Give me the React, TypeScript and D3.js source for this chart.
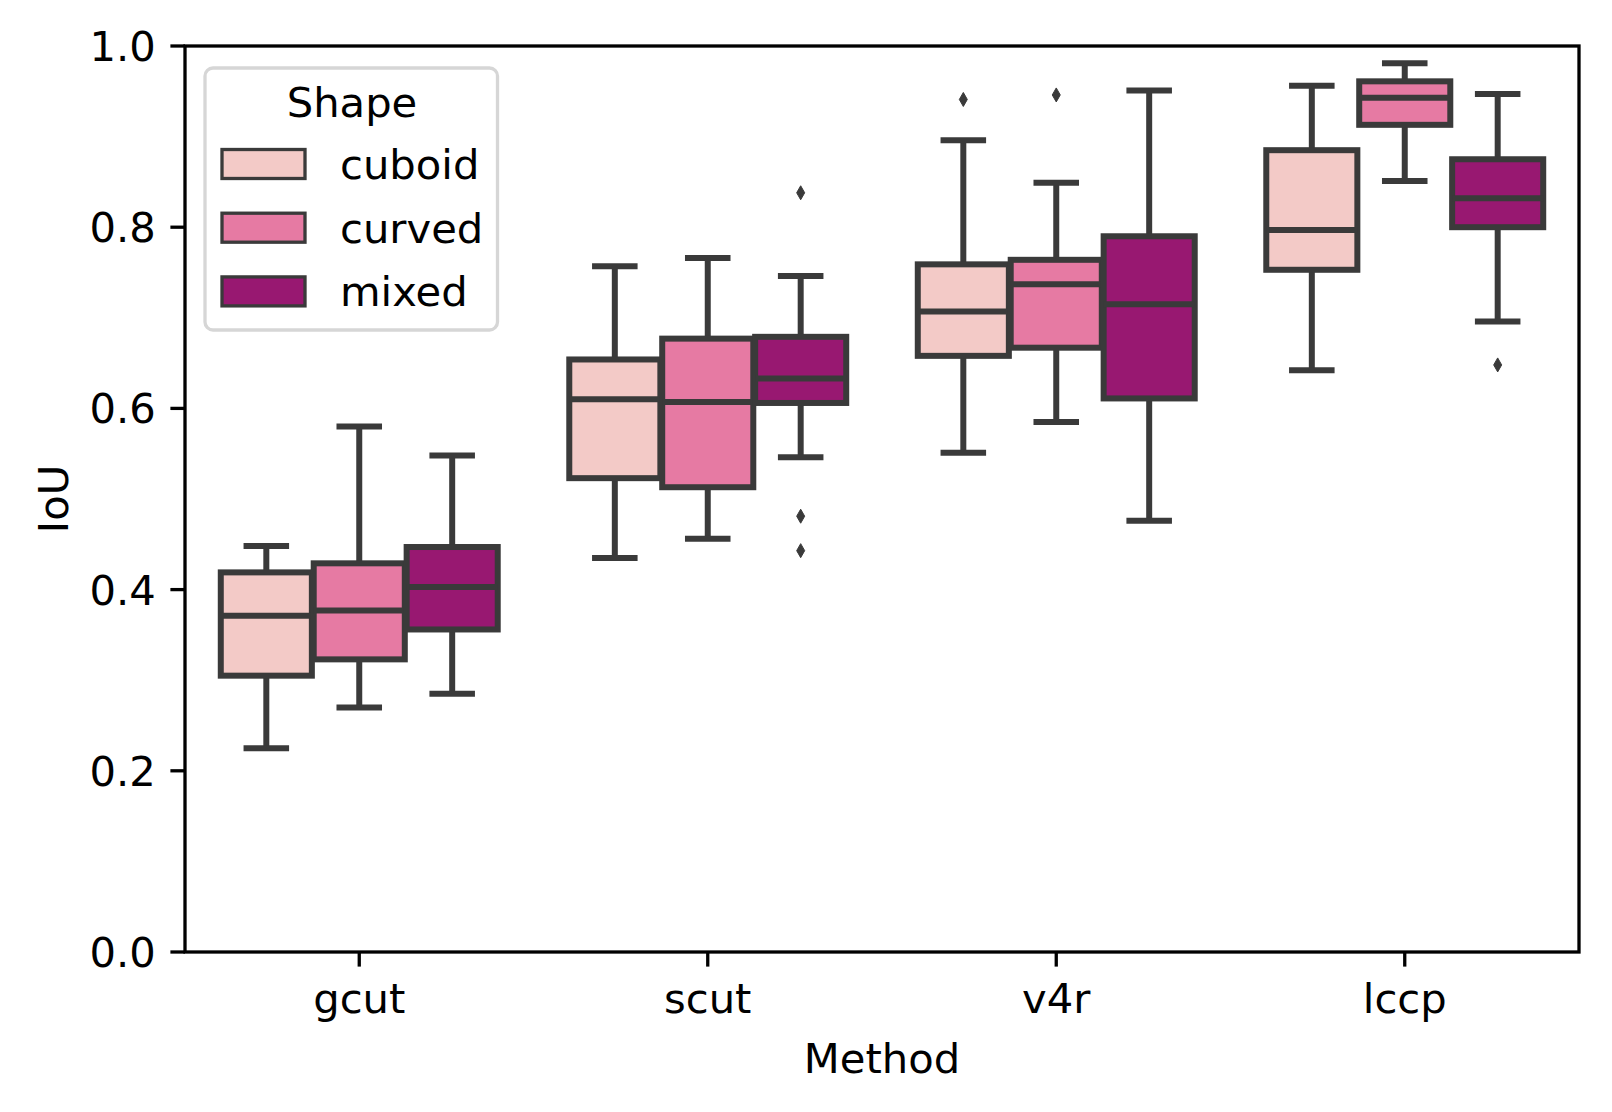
import * as d3 from "d3"

// categories and hue groups
const methods = ["gcut", "scut", "v4r", "lccp"]
const shapes = ["cuboid", "curved", "mixed"]
const shapeColors = ["#f3cac7", "#e67aa3", "#981871"]

// per method: [whisker low, q1, median, q3, whisker high]
const cuboidBox = [
  [0.225, 0.305, 0.371, 0.419, 0.448],
  [0.435, 0.523, 0.61, 0.654, 0.757],
  [0.551, 0.658, 0.707, 0.759, 0.896],
  [0.642, 0.753, 0.797, 0.885, 0.956],
]
const curvedBox = [
  [0.27, 0.323, 0.377, 0.429, 0.58],
  [0.456, 0.513, 0.607, 0.677, 0.766],
  [0.585, 0.667, 0.737, 0.764, 0.849],
  [0.851, 0.913, 0.943, 0.961, 0.981],
]
const mixedBox = [
  [0.285, 0.356, 0.403, 0.447, 0.548],
  [0.546, 0.606, 0.633, 0.679, 0.746],
  [0.476, 0.611, 0.715, 0.79, 0.951],
  [0.696, 0.8, 0.832, 0.875, 0.947],
]

// outliers: [method, shape, value]
const outliers: [string, string, number][] = [
  ["scut", "mixed", 0.838],
  ["scut", "mixed", 0.481],
  ["scut", "mixed", 0.443],
  ["v4r", "cuboid", 0.941],
  ["v4r", "curved", 0.946],
  ["lccp", "mixed", 0.648],
]

const yTicks = [0, 0.2, 0.4, 0.6, 0.8, 1.0]

export default function App() {
  const W = 1612
  const H = 1112
  const margin = { top: 46, right: 33, bottom: 160, left: 185 }
  const innerW = W - margin.left - margin.right
  const innerH = H - margin.top - margin.bottom
  const font = "DejaVu Sans, sans-serif"
  const fs = 41.7
  const edge = "#3a3a3a"
  const lw = 6
  const spine = 3.3
  const tickLen = 14.6

  const x = d3.scaleBand().domain(methods).range([0, innerW])
  const hue = d3
    .scaleBand()
    .domain(shapes)
    .range([-x.bandwidth() * 0.4, x.bandwidth() * 0.4])
  const y = d3.scaleLinear().domain([0, 1]).range([innerH, 0])

  const boxW = hue.bandwidth() * 0.98
  const capW = boxW * 0.5
  const boxSets = [cuboidBox, curvedBox, mixedBox]

  const center = (m: string, s: string) =>
    (x(m) as number) + x.bandwidth() / 2 + (hue(s) as number) + hue.bandwidth() / 2

  const legendRows = shapes.map((s, i) => ({ s, color: shapeColors[i], cy: 164 + i * 63.7 }))

  return (
    <div style={{ position: "absolute", left: 0, top: 0 }}>
      <svg width={W} height={H} style={{ display: "block", background: "#fff" }} fontFamily={font}>
        <g transform={`translate(${margin.left},${margin.top})`}>
          {/* boxes */}
          {shapes.map((s, si) =>
            methods.map((m, mi) => {
              const [lo, q1, med, q3, hi] = boxSets[si][mi]
              const cx = center(m, s)
              return (
                <g key={`${m}-${s}`}>
                  <line x1={cx} x2={cx} y1={y(q1)} y2={y(lo)} stroke={edge} strokeWidth={lw} />
                  <line x1={cx} x2={cx} y1={y(q3)} y2={y(hi)} stroke={edge} strokeWidth={lw} />
                  <line x1={cx - capW / 2} x2={cx + capW / 2} y1={y(lo)} y2={y(lo)} stroke={edge} strokeWidth={lw} />
                  <line x1={cx - capW / 2} x2={cx + capW / 2} y1={y(hi)} y2={y(hi)} stroke={edge} strokeWidth={lw} />
                  <rect
                    x={cx - boxW / 2}
                    y={y(q3)}
                    width={boxW}
                    height={y(q1) - y(q3)}
                    fill={shapeColors[si]}
                    stroke={edge}
                    strokeWidth={lw}
                  />
                  <line x1={cx - boxW / 2} x2={cx + boxW / 2} y1={y(med)} y2={y(med)} stroke={edge} strokeWidth={lw} />
                </g>
              )
            })
          )}

          {/* outliers */}
          {outliers.map(([m, s, v], i) => {
            const cx = center(m, s)
            const cy = y(v)
            return (
              <path
                key={i}
                d={`M${cx},${cy - 7} L${cx + 4},${cy} L${cx},${cy + 7} L${cx - 4},${cy} Z`}
                fill={edge}
                stroke={edge}
                strokeWidth={1}
              />
            )
          })}

          {/* axes frame */}
          <rect x={0} y={0} width={innerW} height={innerH} fill="none" stroke="#000" strokeWidth={spine} />

          {/* y ticks */}
          {yTicks.map((t) => (
            <g key={t} transform={`translate(0,${y(t)})`}>
              <line x1={-tickLen} x2={0} stroke="#000" strokeWidth={spine} />
              <text x={-2 * tickLen} dy={15} textAnchor="end" fontSize={fs} fill="#000">
                {t.toFixed(1)}
              </text>
            </g>
          ))}

          {/* x ticks */}
          {methods.map((m) => {
            const cx = (x(m) as number) + x.bandwidth() / 2
            return (
              <g key={m} transform={`translate(${cx},${innerH})`}>
                <line y1={0} y2={tickLen} stroke="#000" strokeWidth={spine} />
                <text y={61} textAnchor="middle" fontSize={fs} fill="#000">
                  {m}
                </text>
              </g>
            )
          })}

          <text x={innerW / 2} y={innerH + 121} textAnchor="middle" fontSize={fs} fill="#000">
            Method
          </text>
          <text
            transform={`translate(${-117},${innerH / 2}) rotate(-90)`}
            textAnchor="middle"
            fontSize={fs}
            fill="#000"
          >
            IoU
          </text>
        </g>

        {/* legend */}
        <g>
          <rect x={205} y={68} width={292.5} height={262} rx={8} fill="#fff" fillOpacity={0.8} stroke="#d6d6d6" strokeWidth={3.3} />
          <text x={352} y={117} textAnchor="middle" fontSize={fs} fill="#000">
            Shape
          </text>
          {legendRows.map((r) => (
            <g key={r.s}>
              <rect x={222} y={r.cy - 14.5} width={83} height={29} fill={r.color} stroke={edge} strokeWidth={3.3} />
              <text x={340} y={r.cy + 15} fontSize={fs} fill="#000">
                {r.s}
              </text>
            </g>
          ))}
        </g>
      </svg>
    </div>
  )
}
